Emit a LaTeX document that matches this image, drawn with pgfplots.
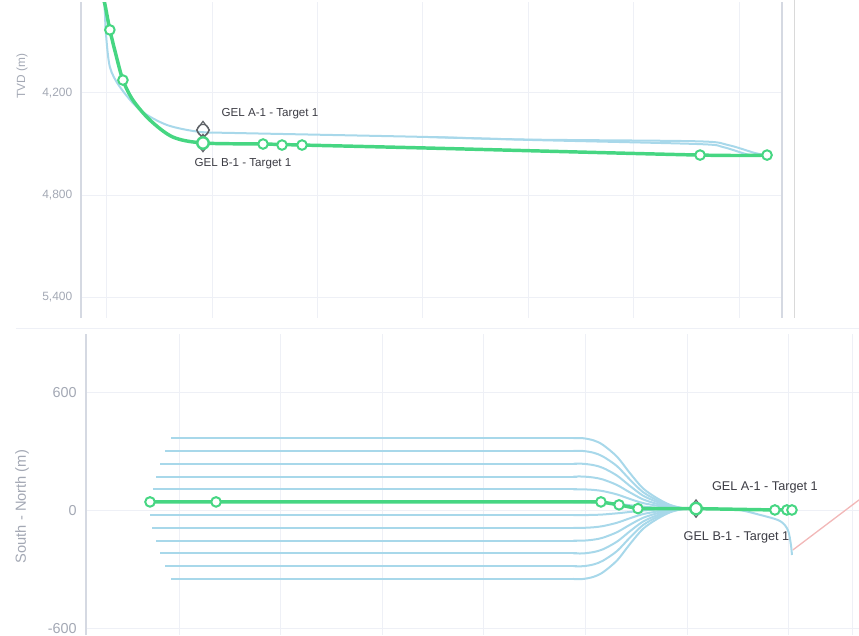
\documentclass[border=0pt]{standalone}
\usepackage{pgfplots}
\pgfplotsset{compat=1.18}
\usepackage{fontspec}
\setmainfont{Liberation Sans}
\definecolor{wgreen}{HTML}{46D682}
\definecolor{wblue}{HTML}{A8D8EA}
\definecolor{gridc}{HTML}{EEF0F6}
\definecolor{tickc}{HTML}{A3A8B4}
\definecolor{axisc}{HTML}{D5D9E2}
\definecolor{tgtc}{HTML}{5F6368}
\definecolor{redc}{HTML}{F2B8B8}
\definecolor{textc}{HTML}{3C3C44}
\pgfplotsset{
  circ/.style={only marks, mark=*, mark size=3.6pt, mark options={fill=white, draw=wgreen, line width=1.5pt}},
  tgt/.style={only marks, mark=diamond, mark size=6.5pt, mark options={fill=none, draw=tgtc, line width=0.9pt}},
  bl/.style={wblue, line width=1.5pt, smooth},
  bs/.style={wblue, line width=1.5pt},
}
\begin{document}
\begin{tikzpicture}
\useasboundingbox (0,0) rectangle (644.25pt,-476.25pt);
% separators
\draw[color=white!85!black, line width=0.75pt] (595.5pt,0pt) -- (595.5pt,-238.5pt);
\draw[color=gridc, line width=0.6pt] (12pt,-246pt) -- (644.25pt,-246pt);
\node[rotate=90, text=tickc, font=\fontsize{8.9}{10}\selectfont] at (16.5pt,-57pt) {TVD (m)};
\node[rotate=90, text=tickc, font=\fontsize{11}{12}\selectfont] at (16.5pt,-380pt) {South - North (m)};
% ---------------- top panel: vertical section
\begin{axis}[
  at={(60.75pt,-238.5pt)}, anchor=south west, scale only axis,
  width=525.75pt, height=237pt,
  xmin=-123, xmax=3204, ymin=3665, ymax=5523, y dir=reverse,
  xtick={0,500,...,3000}, xticklabels={},
  ytick={4200,4800,5400}, yticklabels={{4,200},{4,800},{5,400}},
  grid=major, major grid style={color=gridc, line width=0.75pt},
  separate axis lines, x axis line style={draw=none},
  y axis line style={color=axisc, line width=0.8pt},
  major tick length=0pt, tick style={draw=none},
  yticklabel style={font=\fontsize{9}{10}\selectfont, text=tickc, xshift=-3pt},
]
\addplot[bl] coordinates {(-14,3641) (-9,3741) (-5,3847) (14,4047) (62,4165) (157,4300) (285,4388) (441,4429) (598,4435) (1533,4459) (2008,4476) (2801,4500) (2924,4518) (3052,4565) (3133,4565)};
\addplot[bl] coordinates {(1533,4459) (2008,4474) (2801,4484) (2948,4506) (3076,4553) (3133,4565)};
\addplot[wgreen, line width=2.6pt, smooth] coordinates {(-19,3641) (-9,3682) (14,3829) (43,3976) (76,4124) (123,4241) (204,4359) (313,4459) (456,4494) (741,4500) (926,4506) (1533,4524) (2815,4565) (3133,4565)};
\addplot[circ] coordinates {(14,3829) (76,4124) (741,4500) (831,4506) (926,4506) (2815,4565) (3133,4565)};
\addplot[tgt] coordinates {(456,4418) (456,4494)};
\addplot[only marks, mark=o, mark size=4.3pt, mark options={draw=tgtc, line width=0.9pt}] coordinates {(456,4418)};
\addplot[only marks, mark=*, mark size=4.3pt, mark options={fill=white, draw=wgreen, line width=1.8pt}] coordinates {(456,4494)};
\node[anchor=west, text=textc, font=\fontsize{8.7}{10}\selectfont] at (axis cs:522,4324) {GEL A-1 - Target 1};
\node[anchor=west, text=textc, font=\fontsize{8.7}{10}\selectfont] at (axis cs:394,4618) {GEL B-1 - Target 1};
\end{axis}
% ---------------- bottom panel: plan view
\begin{axis}[
  at={(64.5pt,-476.25pt)}, anchor=south west, scale only axis,
  width=579.75pt, height=225.75pt,
  xmin=-458, xmax=3346, ymin=-631, ymax=900,
  xtick={0,500,1000,1500,2000,2500,3000,3316}, xticklabels={},
  ytick={-600,0,600}, yticklabels={-600,0,600},
  grid=major, major grid style={color=gridc, line width=0.75pt},
  axis y line*=left, axis x line*=bottom,
  x axis line style={draw=none},
  y axis line style={color=axisc, line width=0.8pt},
  major tick length=0pt, tick style={draw=none},
  yticklabel style={font=\fontsize{10.8}{12}\selectfont, text=tickc, xshift=-3.5pt},
]
% straight parts of the laterals
\addplot[bs] coordinates {(-39,370) (1960,370)};
\addplot[bs] coordinates {(-69,305) (1960,305)};
\addplot[bs] coordinates {(-93,240) (1960,240)};
\addplot[bs] coordinates {(-113,175) (1960,175)};
\addplot[bs] coordinates {(-128,110) (1960,110)};
\addplot[bs] coordinates {(-143,45) (1960,45)};
\addplot[bs] coordinates {(-143,-21) (1960,-21)};
\addplot[bs] coordinates {(-133,-86) (1960,-86)};
\addplot[bs] coordinates {(-113,-151) (1960,-151)};
\addplot[bs] coordinates {(-93,-216) (1960,-216)};
\addplot[bs] coordinates {(-69,-281) (1960,-281)};
\addplot[bs] coordinates {(-39,-346) (1960,-346)};
% converging parts
\addplot[bl] coordinates {(1940,370) (1988,370) (2040,359) (2086,336) (2155,276) (2219,192) (2283,115) (2352,65) (2416,31) (2480,14) (2544,12)};
\addplot[bl] coordinates {(1940,305) (1988,305) (2040,296) (2086,277) (2155,228) (2219,159) (2283,96) (2352,55) (2416,28) (2480,14) (2544,12)};
\addplot[bl] coordinates {(1940,240) (1988,240) (2040,233) (2086,219) (2155,180) (2219,127) (2283,78) (2352,46) (2416,24) (2480,13) (2544,12)};
\addplot[bl] coordinates {(1940,175) (1988,175) (2040,170) (2086,160) (2155,132) (2219,94) (2283,59) (2352,36) (2416,21) (2480,13) (2544,12)};
\addplot[bl] coordinates {(1940,110) (1988,110) (2040,107) (2086,101) (2155,84) (2219,61) (2283,40) (2352,27) (2416,17) (2480,13) (2544,12)};
\addplot[bl] coordinates {(1940,45) (1988,45) (2040,44) (2086,42) (2155,36) (2219,29) (2283,22) (2352,17) (2416,14) (2480,12) (2544,12)};
\addplot[bl] coordinates {(1940,-21) (1988,-21) (2040,-20) (2086,-18) (2155,-12) (2219,-5) (2283,2) (2352,7) (2416,10) (2480,12) (2544,12)};
\addplot[bl] coordinates {(1940,-86) (1988,-86) (2040,-83) (2086,-77) (2155,-60) (2219,-37) (2283,-16) (2352,-3) (2416,7) (2480,11) (2544,12)};
\addplot[bl] coordinates {(1940,-151) (1988,-151) (2040,-146) (2086,-136) (2155,-108) (2219,-70) (2283,-35) (2352,-12) (2416,3) (2480,11) (2544,12)};
\addplot[bl] coordinates {(1940,-216) (1988,-216) (2040,-209) (2086,-195) (2155,-156) (2219,-103) (2283,-54) (2352,-22) (2416,0) (2480,11) (2544,12)};
\addplot[bl] coordinates {(1940,-281) (1988,-281) (2040,-272) (2086,-253) (2155,-204) (2219,-135) (2283,-72) (2352,-31) (2416,-4) (2480,10) (2544,12)};
\addplot[bl] coordinates {(1940,-346) (1988,-346) (2040,-335) (2086,-312) (2155,-252) (2219,-168) (2283,-91) (2352,-41) (2416,-7) (2480,10) (2544,12)};
\addplot[bl] coordinates {(2480,12) (2544,12) (2735,8) (2859,-20) (2957,-51) (2996,-97) (3011,-173) (3016,-224)};
\addplot[redc, line width=1pt] coordinates {(3021,-198) (3346,56)};
\addplot[wgreen, line width=2.6pt] coordinates {(-143,46) (2076,46) (2165,31) (2258,12) (2544,12) (2932,5) (3016,5)};
\addplot[circ] coordinates {(-143,46) (182,46) (2076,46) (2165,31) (2258,12) (2932,5) (2991,5) (3016,5)};
\addplot[tgt] coordinates {(2544,12)};
\addplot[only marks, mark=*, mark size=4.3pt, mark options={fill=white, draw=wgreen, line width=1.8pt}] coordinates {(2544,12)};
\node[anchor=west, text=textc, font=\fontsize{9.5}{11}\selectfont] at (axis cs:2600,122) {GEL A-1 - Target 1};
\node[anchor=west, text=textc, font=\fontsize{9.5}{11}\selectfont] at (axis cs:2460,-132) {GEL B-1 - Target 1};
\end{axis}
\end{tikzpicture}
\end{document}
